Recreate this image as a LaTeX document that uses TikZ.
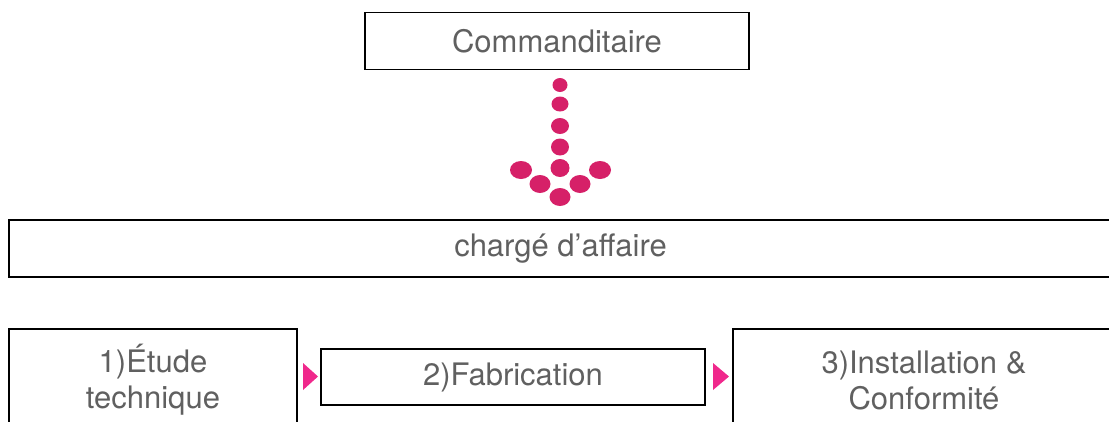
\documentclass[tikz,border=0pt]{standalone}
\usepackage{fontspec}
\setmainfont{TeX Gyre Heros}
\definecolor{boxtext}{RGB}{96,96,96}
\definecolor{dotpink}{RGB}{214,32,104}
\definecolor{tippink}{RGB}{240,40,140}
\tikzset{
    stage/.style={draw=black, line width=1.5pt, text=boxtext, inner sep=0pt,
        align=center, font=\fontsize{31}{36}\selectfont},
}
\begin{document}
\begin{tikzpicture}[x=1pt, y=-1pt]
    \clip (0,0) rectangle (1109,421);

    % Top boxes
    \node[stage, minimum width=384pt, minimum height=57pt] (comm) at (557,41) {Commanditaire};
    \node[stage, minimum width=1103pt, minimum height=57pt] (charge) at (560.5,248.5) {chargé d’affaire};

    % Stages
    \node[stage, minimum width=288pt, minimum height=102pt] (etude) at (153,380) {1)Étude\\technique};
    \node[stage, minimum width=384pt, minimum height=56pt] (fab) at (513,377) {2)Fabrication};
    \node[stage, minimum width=382pt, minimum height=102pt] (install) at (924,380) {3)Installation \&\\Conformité};

    % Dotted arrow
    \foreach \x/\y/\rx/\ry in {560/85/7.5/7, 560/104/8.5/7.5, 560/126/9/8, 560/147/9/8.5,
        560/168/9.5/9, 521/170/11/9, 540/184/10.5/9, 560/197/10.5/9, 580/184/10.5/9, 600/170/11/9}
        \fill[dotpink] (\x,\y) ellipse [x radius=\rx, y radius=\ry];

    % Small tips
    \fill[tippink] (303,363) -- (318,376.5) -- (303,390) -- cycle;
    \fill[tippink] (713,363) -- (729,376.5) -- (713,390) -- cycle;
\end{tikzpicture}
\end{document}
